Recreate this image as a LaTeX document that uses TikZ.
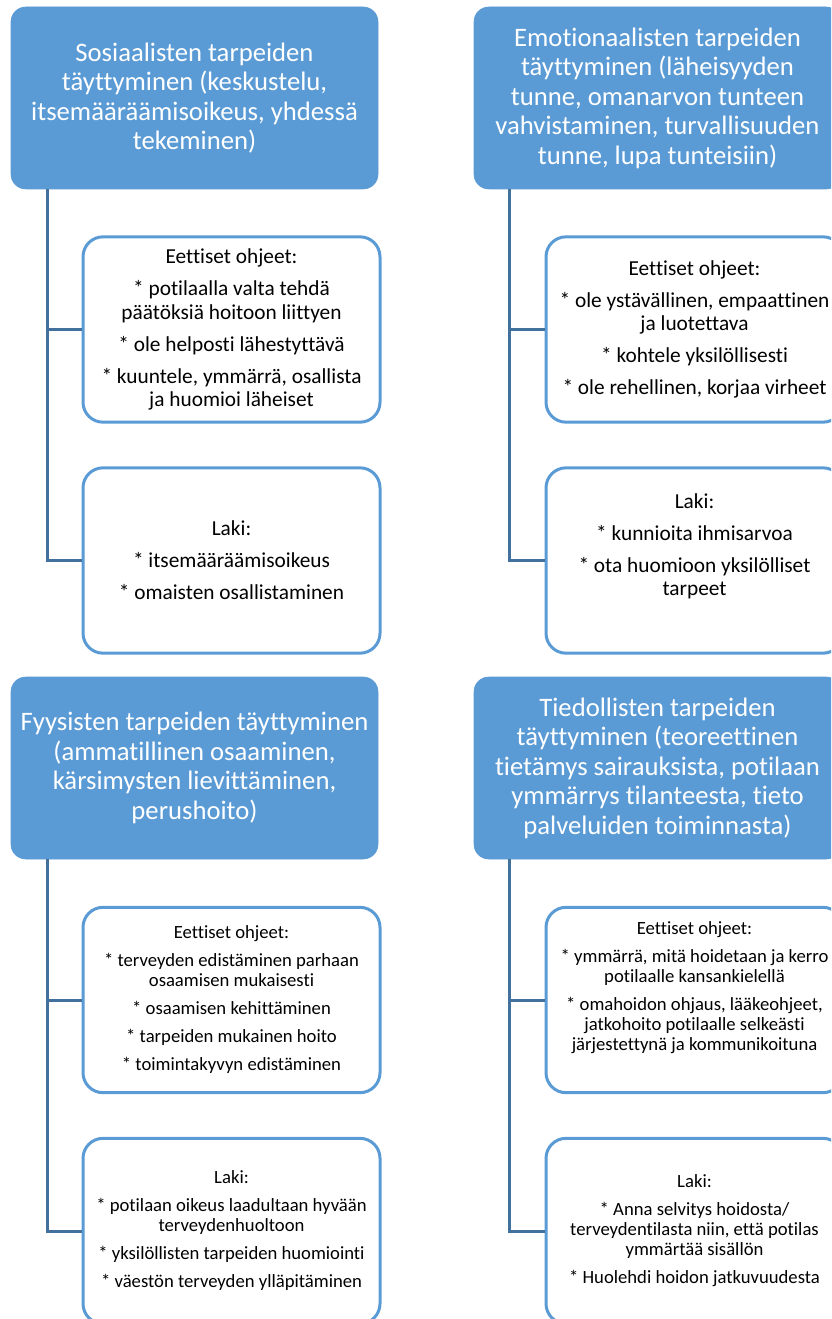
\documentclass[tikz,border=0pt]{standalone}
\usepackage{fontspec}
\setmainfont{Carlito}[Ligatures=NoCommon]
\usepackage{tikz}

\definecolor{hdrblue}{RGB}{91,155,213}
\definecolor{lineblue}{RGB}{65,113,156}

\tikzset{
  hdr/.style={draw=hdrblue, fill=hdrblue, rounded corners=11pt, minimum width=275.25pt,
    minimum height=136.5pt, inner sep=0pt, text=white, align=center,
    font=\fontsize{20}{22.1}\selectfont},
  sub/.style={draw=hdrblue, line width=2.25pt, fill=white, rounded corners=15pt,
    minimum width=222.75pt, minimum height=139pt, inner sep=0pt, align=center},
  bigtxt/.style={font=\fontsize{16}{17.6}\selectfont},
  smalltxt/.style={font=\fontsize{14}{15}\selectfont},
  conn/.style={draw=lineblue, line width=2.25pt}
}

\begin{document}
\begin{tikzpicture}[x=0.75pt,y=0.75pt,yscale=-1,xscale=1]
\useasboundingbox (0,0) rectangle (831,1319);
\clip (0,0) rectangle (831,1319);

%Header: sosiaaliset tarpeet
\node [hdr] (hdrSos) at (194.5,98) {Sosiaalisten tarpeiden\\täyttyminen (keskustelu,\\itsemääräämisoikeus, yhdessä\\tekeminen)};
%Header: emotionaaliset tarpeet
\node [hdr] (hdrEmo) at (657.5,98) {Emotionaalisten tarpeiden\\täyttyminen (läheisyyden\\tunne, omanarvon tunteen\\vahvistaminen, turvallisuuden\\tunne, lupa tunteisiin)};
%Header: fyysiset tarpeet
\node [hdr] (hdrFyy) at (194.5,768) {Fyysisten tarpeiden täyttyminen\\(ammatillinen osaaminen,\\kärsimysten lievittäminen,\\perushoito)};
%Header: tiedolliset tarpeet
\node [hdr] (hdrTie) at (657.5,768) {Tiedollisten tarpeiden\\täyttyminen (teoreettinen\\tietämys sairauksista, potilaan\\ymmärrys tilanteesta, tieto\\palveluiden toiminnasta)};

%Box: sosiaaliset, eettiset ohjeet
\node [sub,bigtxt] (eetSos) at (231.5,329.5) {Eettiset ohjeet:\\[6.4pt]* potilaalla valta tehdä\\päätöksiä hoitoon liittyen\\[6.4pt]* ole helposti lähestyttävä\\[6.4pt]* kuuntele, ymmärrä, osallista\\ja huomioi läheiset};
%Box: sosiaaliset, laki
\node [sub,bigtxt] (lakiSos) at (231.5,560.5) {Laki:\\[6.4pt]* itsemääräämisoikeus\\[6.4pt]* omaisten osallistaminen};

%Box: emotionaaliset, eettiset ohjeet
\node [sub,bigtxt] (eetEmo) at (694.5,329.5) {Eettiset ohjeet:\\[6.4pt]* ole ystävällinen, empaattinen\\ja luotettava\\[6.4pt]* kohtele yksilöllisesti\\[6.4pt]* ole rehellinen, korjaa virheet};
%Box: emotionaaliset, laki
\node [sub,bigtxt] (lakiEmo) at (694.5,560.5) {Laki:\\[6.4pt]* kunnioita ihmisarvoa\\[6.4pt]* ota huomioon yksilölliset\\tarpeet\\[6.4pt]\mbox{}};

%Box: fyysiset, eettiset ohjeet
\node [sub,smalltxt] (eetFyy) at (231.5,1000) {Eettiset ohjeet:\\[6pt]* terveyden edistäminen parhaan\\osaamisen mukaisesti\\[6pt]* osaamisen kehittäminen\\[6pt]* tarpeiden mukainen hoito\\[6pt]* toimintakyvyn edistäminen};
%Box: fyysiset, laki
\node [sub,smalltxt] (lakiFyy) at (231.5,1231) {Laki:\\[6pt]* potilaan oikeus laadultaan hyvään\\terveydenhuoltoon\\[6pt]* yksilöllisten tarpeiden huomiointi\\[6pt]* väestön terveyden ylläpitäminen};

%Box: tiedolliset, eettiset ohjeet
\node [sub,smalltxt] (eetTie) at (694.5,1000) {Eettiset ohjeet:\\[6pt]* ymmärrä, mitä hoidetaan ja kerro\\potilaalle kansankielellä\\[6pt]* omahoidon ohjaus, lääkeohjeet,\\jatkohoito potilaalle selkeästi\\järjestettynä ja kommunikoituna\\[6pt]\mbox{}};
%Box: tiedolliset, laki
\node [sub,smalltxt] (lakiTie) at (694.5,1231) {Laki:\\[6pt]* Anna selvitys hoidosta/\\terveydentilasta niin, että potilas\\ymmärtää sisällön\\[6pt]* Huolehdi hoidon jatkuvuudesta};

%Connectors
\coordinate (trSos) at (47,189);
\coordinate (trEmo) at (509,189);
\coordinate (trFyy) at (47,859);
\coordinate (trTie) at (509,859);
\draw [conn] (trSos) |- (lakiSos.west);
\draw [conn] (trSos |- eetSos.west) -- (eetSos.west);
\draw [conn] (trEmo) |- (lakiEmo.west);
\draw [conn] (trEmo |- eetEmo.west) -- (eetEmo.west);
\draw [conn] (trFyy) |- (lakiFyy.west);
\draw [conn] (trFyy |- eetFyy.west) -- (eetFyy.west);
\draw [conn] (trTie) |- (lakiTie.west);
\draw [conn] (trTie |- eetTie.west) -- (eetTie.west);

\end{tikzpicture}
\end{document}
